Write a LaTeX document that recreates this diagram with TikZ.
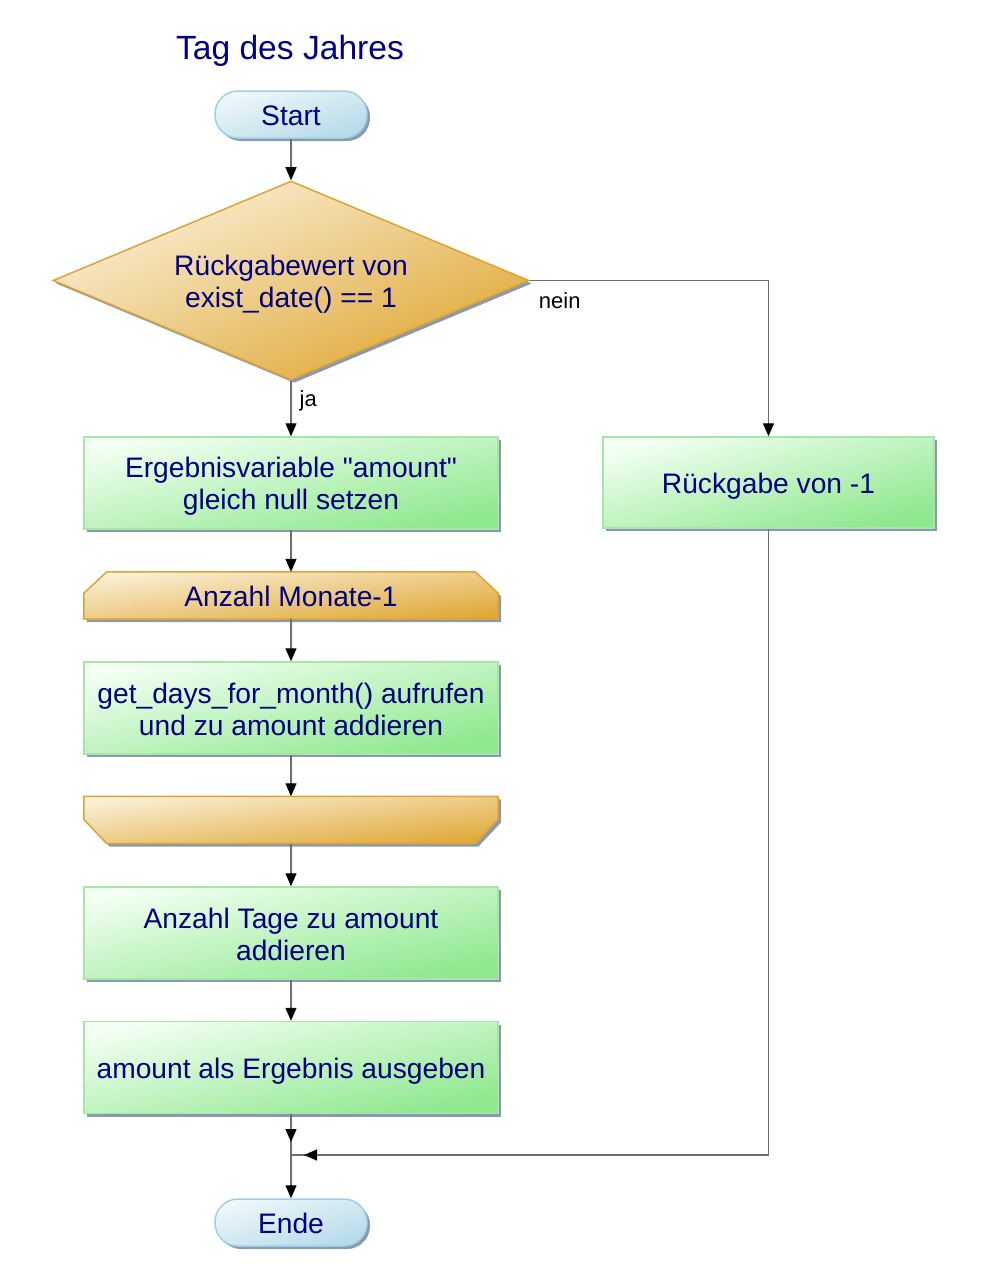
\documentclass[tikz,border=0pt]{standalone}
\usepackage{fontspec}
\setmainfont{Liberation Sans}
\usetikzlibrary{arrows.meta,shapes.geometric,shadows,calc,backgrounds}
\definecolor{txt}{HTML}{000080}
\definecolor{shadowc}{HTML}{8A99AE}
\definecolor{lineg}{HTML}{6E6E6E}
\definecolor{termA}{HTML}{EEF7FB}
\definecolor{termB}{HTML}{B6DBE9}
\definecolor{termD}{HTML}{9FCFE2}
\definecolor{goldA}{HTML}{FBF0D8}
\definecolor{goldB}{HTML}{DFA836}
\definecolor{goldD}{HTML}{DCA433}
\definecolor{grnA}{HTML}{F2FFF2}
\definecolor{grnB}{HTML}{8EE88E}
\definecolor{grnD}{HTML}{A6E6A6}
\newcommand{\topstrut}[1]{\rule{0pt}{#1}}
\tikzset{
  sh/.style={drop shadow={shadow xshift=3pt,shadow yshift=-3pt,fill=shadowc,opacity=1}},
  body/.style={font=\fontsize{28.2}{32}\selectfont, text=txt, align=center, inner sep=0pt},
  single/.style={execute at begin node={\rule{0pt}{27.5pt}}, execute at end node={\rule[-5.5pt]{0pt}{5.5pt}}},
  term/.style={body, single, rectangle, rounded corners=23pt, minimum width=152pt, minimum height=47pt,
    draw=termD, line width=1.5pt, top color=termA, bottom color=termB, shading angle=17, sh},
  proc/.style={body, rectangle, minimum width=414pt, minimum height=92pt,
    draw=grnD, line width=1.5pt, top color=grnA, bottom color=grnB, shading angle=12.5, sh},
  decis/.style={body, diamond, minimum width=476pt, minimum height=199pt, aspect=2.39,
    draw=goldD, line width=1.5pt, top color=goldA, bottom color=goldB, shading angle=22.7, sh},
  loopnode/.style={body, single, rectangle, minimum width=414pt, minimum height=47pt},
  loopshape/.style={draw=goldD, line width=1.5pt, top color=goldA, bottom color=goldB, shading angle=6.5, sh},
  line/.style={draw=lineg, line width=1.3pt},
  conn/.style={line, -{Triangle[length=13pt,width=11pt,color=black]}},
  lbl/.style={font=\fontsize{22}{26}\selectfont, text=black, inner sep=0pt}
}
\begin{document}
\begin{tikzpicture}[x=1pt,y=-1pt]
\useasboundingbox (0,0) rectangle (985,1288);
\node[font=\fontsize{33.6}{38}\selectfont, text=txt, inner sep=0pt, anchor=base] (title) at (290,59) {Tag des Jahres};
\node[term] (start) at (291,114.5) {Start};
\node[decis] (dec) at (291,280.5) {\topstrut{28.5pt}Rückgabewert von\\exist\_date() == 1};
\node[proc] (b1) at (291,483) {\topstrut{26pt}Ergebnisvariable \textquotedbl amount\textquotedbl\\gleich null setzen};
\node[loopnode] (l1) at (291,595.5) {Anzahl Monate-1};
\node[proc] (b2) at (291,708) {\topstrut{22.5pt}get\_days\_for\_month() aufrufen\\und zu amount addieren};
\node[loopnode] (l2) at (291,820) {};
\node[proc] (b3) at (291,933) {\topstrut{22.5pt}Anzahl Tage zu amount\\addieren};
\node[proc, single] (b4) at (291,1067.5) {amount als Ergebnis ausgeben};
\node[proc, single, minimum width=331pt, minimum height=91pt, shading angle=15.4] (ret) at (768.5,482.5) {Rückgabe von -1};
\coordinate (j) at (291,1155);
\node[term] (ende) at (291,1222.5) {Ende};
\begin{scope}[on background layer]
  \path[loopshape] ($(l1.south west)+(0,-26)$) -- ($(l1.north west)+(23,0)$) -- ($(l1.north east)+(-23,0)$)
     -- ($(l1.south east)+(0,-26)$) -- (l1.south east) -- (l1.south west) -- cycle;
  \path[loopshape] (l2.north west) -- (l2.north east) -- ($(l2.north east)+(0,23)$)
     -- ($(l2.south east)+(-23,0)$) -- ($(l2.south west)+(23,0)$) -- ($(l2.north west)+(0,23)$) -- cycle;
\end{scope}
\draw[conn] (start) -- (dec);
\draw[conn] (dec.south) -- (b1.north) node[lbl, pos=0.37, anchor=west, xshift=8pt] {ja};
\draw[conn] (dec.east) -| (ret.north);
\node[lbl, anchor=base west] (nein) at ($(dec.east)+(9,28)$) {nein};
\draw[conn] (b1) -- (l1);
\draw[conn] (l1) -- (b2);
\draw[conn] (b2) -- (l2);
\draw[conn] (l2) -- (b3);
\draw[conn] (b3) -- (b4);
\draw[line] (b4.south) -- (j);
\draw[conn, shorten >=13pt] (b4.south) -- (j);
\draw[line] (ret.south) |- (j);
\draw[conn, shorten >=13pt] (ret.south) |- (j);
\draw[conn] (j) -- (ende);
\end{tikzpicture}
\end{document}
